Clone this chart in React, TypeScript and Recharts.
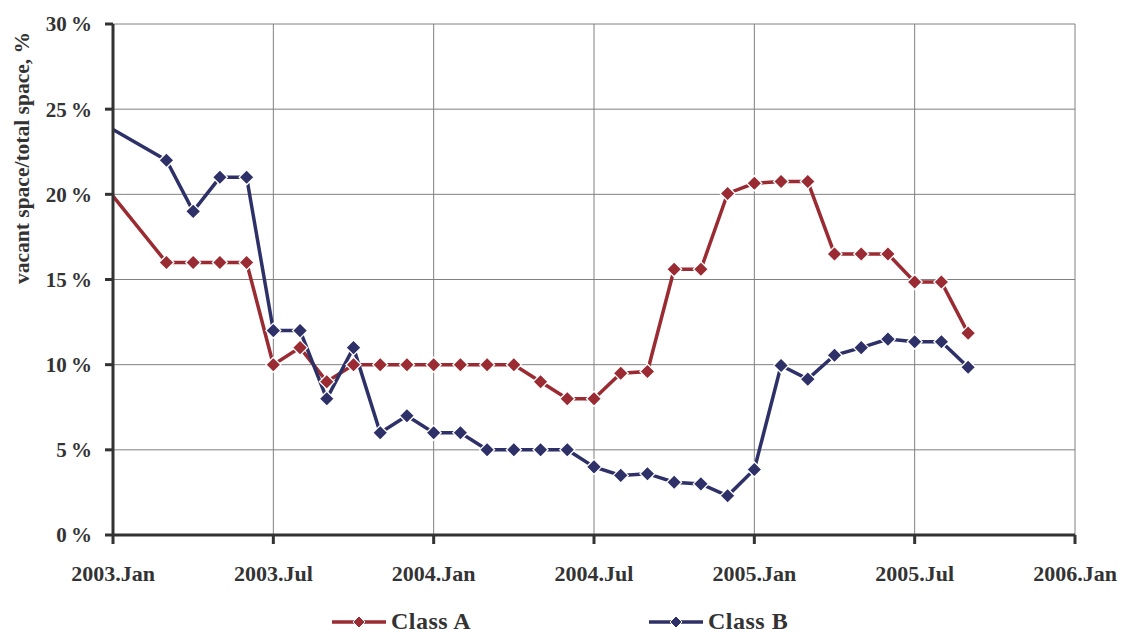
import React from 'react';
import { LineChart, Line, XAxis, YAxis, CartesianGrid, Label } from 'recharts';

// months counted from 2003.Jan (0) ; month 1 has no reading
const months = [0, 2, 3, 4, 5, 6, 7, 8, 9, 10, 11, 12, 13, 14, 15, 16, 17, 18, 19, 20, 21, 22, 23, 24, 25, 26, 27, 28, 29, 30, 31, 32];

const classA = [19.9, 16, 16, 16, 16, 10, 11, 9, 10, 10, 10, 10, 10, 10, 10, 9, 8, 8, 9.5, 9.6, 15.6, 15.6, 20.05, 20.65, 20.75, 20.75, 16.5, 16.5, 16.5, 14.85, 14.85, 11.85];

const classB = [23.8, 22, 19, 21, 21, 12, 12, 8, 11, 6, 7, 6, 6, 5, 5, 5, 5, 4, 3.5, 3.6, 3.1, 3.0, 2.3, 3.85, 9.95, 9.15, 10.55, 11, 11.5, 11.35, 11.35, 9.85];

const xTicks = [0, 6, 12, 18, 24, 30, 36];
const xTickLabels = ['2003.Jan', '2003.Jul', '2004.Jan', '2004.Jul', '2005.Jan', '2005.Jul', '2006.Jan'];
const yTicks = [0, 5, 10, 15, 20, 25, 30];

const RED = '#9a2b32';
const NAVY = '#2e3068';
const TEXT = '#333333';
const FONT = '"Liberation Serif", "Times New Roman", serif';

const data = months.map((m, i) => ({ month: m, a: classA[i], b: classB[i] }));

const diamond = (color: string) => (props: any) => {
  const { cx, cy, index } = props;
  if (index === 0 || cx == null || cy == null) return <g key={`d-${color}-${index}`} />;
  const r = 7.5;
  return (
    <polygon
      key={`d-${color}-${index}`}
      points={`${cx},${cy - r} ${cx + r},${cy} ${cx},${cy + r} ${cx - r},${cy}`}
      fill={color}
      stroke="#ffffff"
      strokeWidth={1.3}
    />
  );
};

const LegendItem = ({ color, label, left }: { color: string; label: string; left: number }) => (
  <div style={{ position: 'absolute', left, top: 608, display: 'flex', alignItems: 'center' }}>
    <svg width={58} height={16}>
      <line x1={2} y1={8} x2={56} y2={8} stroke={color} strokeWidth={3.5} />
      <polygon points="29,2 35,8 29,14 23,8" fill={color} stroke="#fff" strokeWidth={1} />
    </svg>
    <span style={{ fontFamily: FONT, fontWeight: 'bold', fontSize: 24, color: TEXT, marginLeft: 3, letterSpacing: 0.5 }}>
      {label}
    </span>
  </div>
);

export default function App() {
  return (
    <div style={{ position: 'absolute', left: 0, top: 0, width: 1122, height: 632, background: '#fff' }}>
      <LineChart width={1122} height={632} data={data} margin={{ top: 24, right: 47, bottom: 47, left: 0 }}>
        <CartesianGrid stroke="#808080" strokeWidth={1} />
        <XAxis
          dataKey="month"
          type="number"
          domain={[0, 36]}
          ticks={xTicks}
          tickFormatter={(v: number) => xTickLabels[xTicks.indexOf(v)]}
          height={50}
          stroke="#333"
          strokeWidth={3}
          tickSize={9}
          tickMargin={21}
          tick={{ fill: TEXT, fontFamily: FONT, fontWeight: 'bold', fontSize: 22 }}
          interval={0}
        />
        <YAxis
          type="number"
          domain={[0, 30]}
          ticks={yTicks}
          tickFormatter={(v: number) => `${v}\u2009%`}
          width={113}
          stroke="#333"
          strokeWidth={3}
          tickSize={8}
          tickMargin={13}
          tick={{ fill: TEXT, fontFamily: FONT, fontWeight: 'bold', fontSize: 21 }}
          interval={0}
        >
          <Label
            content={() => (
              <text
                x={22}
                y={158}
                transform="rotate(-90 22 158)"
                textAnchor="middle"
                dominantBaseline="central"
                fill={TEXT}
                style={{ fontFamily: FONT, fontWeight: 'bold', fontSize: 21.5 }}
              >
                vacant space/total space, %
              </text>
            )}
          />
        </YAxis>
        <Line
          dataKey="a"
          stroke={RED}
          strokeWidth={3.5}
          dot={diamond(RED)}
          activeDot={false}
          isAnimationActive={false}
        />
        <Line
          dataKey="b"
          stroke={NAVY}
          strokeWidth={3.5}
          dot={diamond(NAVY)}
          activeDot={false}
          isAnimationActive={false}
        />
      </LineChart>
      <LegendItem color={RED} label="Class A" left={330} />
      <LegendItem color={NAVY} label="Class B" left={647} />
    </div>
  );
}
